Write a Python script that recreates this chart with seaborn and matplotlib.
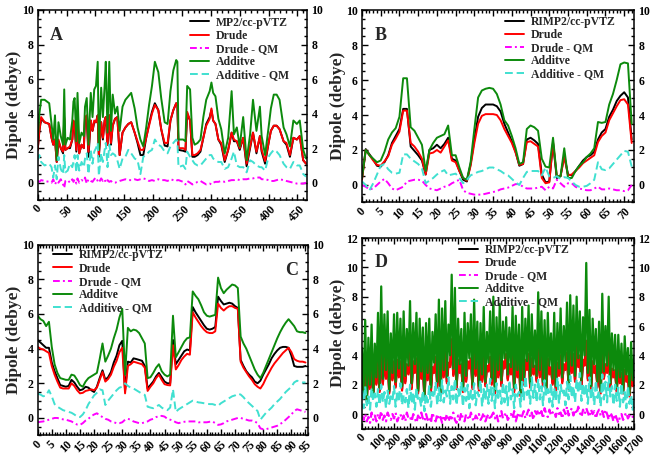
import numpy as np
import pandas as pd
import matplotlib
matplotlib.use("Agg")
import matplotlib.pyplot as plt
import seaborn as sns
from matplotlib.ticker import MultipleLocator

# ---------------- panel A (MP2/cc-pVTZ, 0..465) ----------------
a_x = [0, 3, 6, 12, 20, 24, 27, 30, 33, 36,
       40, 44, 46, 48, 52, 56, 60, 62, 64, 67,
       69, 72, 76, 80, 82, 85, 88, 92, 95, 98,
       101, 104, 106, 110, 113, 116, 118, 121, 124, 127,
       130, 134, 138, 142, 147, 152, 157, 162, 168, 173,
       178, 183, 188, 193, 198, 203, 209, 214, 220, 225,
       230, 235, 240, 242, 244, 252, 256, 259, 264, 268,
       272, 277, 282, 287, 292, 298, 301, 304, 308, 313,
       318, 324, 330, 336, 340, 345, 350, 356, 362, 368,
       373, 379, 385, 388, 394, 400, 404, 409, 414, 419,
       426, 431, 437, 443, 449, 454, 460, 465]
a_qm = [1.9, 3.0, 3.7, 3.5, 3.4, 2.6, 2.2, 2.5, 1.2, 2.4,
        2.0, 1.7, 3.7, 1.9, 2.0, 2.0, 2.5, 3.5, 3.3, 1.8,
        3.7, 1.7, 2.2, 2.0, 3.7, 3.8, 1.5, 3.6, 3.0, 3.5,
        3.5, 3.9, 1.5, 3.5, 2.5, 3.6, 3.8, 2.2, 3.9, 2.2,
        3.3, 3.7, 3.8, 1.6, 2.9, 3.2, 3.4, 3.5, 2.9, 2.3,
        1.6, 1.6, 2.6, 3.4, 4.1, 4.6, 4.2, 3.1, 2.15, 2.1,
        3.6, 4.2, 4.6, 4.5, 1.9, 1.85, 1.8, 4.0, 3.6, 1.5,
        1.5, 1.6, 1.8, 2.6, 3.4, 3.8, 4.2, 3.6, 3.4, 2.5,
        2.2, 1.2, 1.9, 2.9, 2.4, 2.4, 1.9, 2.6, 0.95, 2.0,
        2.9, 1.7, 2.7, 1.8, 1.1, 2.3, 3.0, 3.3, 3.3, 3.1,
        2.4, 2.2, 1.5, 2.6, 2.5, 2.7, 1.3, 1.1]
a_drude = [1.9, 3.0, 3.8, 3.5, 3.4, 2.6, 2.2, 2.5, 1.2, 2.5,
           2.0, 1.8, 3.8, 1.9, 2.0, 2.1, 2.5, 3.6, 3.3, 1.9,
           3.7, 1.7, 2.2, 2.0, 3.8, 3.9, 1.8, 3.6, 3.0, 3.6,
           3.5, 3.9, 1.6, 3.5, 2.6, 3.6, 3.8, 2.2, 3.9, 2.3,
           3.3, 3.7, 3.8, 1.6, 2.9, 3.2, 3.4, 3.5, 2.9, 2.4,
           1.9, 1.9, 2.6, 3.3, 4.0, 4.5, 4.2, 3.1, 2.3, 2.3,
           3.6, 4.2, 4.6, 4.5, 2.0, 2.0, 1.9, 4.1, 3.6, 1.6,
           1.6, 1.7, 1.9, 2.6, 3.3, 3.7, 4.3, 3.6, 3.4, 2.5,
           2.3, 1.3, 1.9, 2.9, 2.5, 2.4, 2.0, 2.6, 1.1, 2.1,
           2.9, 1.8, 2.7, 1.9, 1.25, 2.3, 3.0, 3.3, 3.3, 3.1,
           2.4, 2.3, 1.6, 2.6, 2.5, 2.7, 1.3, 1.1]
a_drude_qm = [0.1, 0.05, 0.15, 0.1, 0.05, 0.0, 0.2, -0.1, 0.1, 0.0,
              0.2, -0.1, -0.3, 0.1, 0.15, 0.0, 0.2, 0.05, 0.2, -0.05,
              0.25, 0.0, 0.15, 0.1, 0.3, -0.05, 0.2, 0.1, 0.05, 0.2,
              0.3, 0.1, 0.0, 0.25, 0.1, 0.2, 0.0, 0.15, 0.05, 0.1,
              0.0, 0.0, 0.05, 0.1, 0.15, 0.2, 0.15, 0.15, 0.2, 0.15,
              0.2, 0.25, 0.2, 0.1, 0.15, 0.1, 0.2, 0.15, 0.15, 0.1,
              0.2, 0.15, 0.1, 0.15, 0.15, 0.05, -0.1, 0.1, 0.0, -0.1,
              -0.05, 0.05, 0.1, 0.0, -0.1, -0.05, -0.1, 0.0, 0.05, 0.05,
              0.1, 0.05, 0.1, 0.15, 0.15, 0.2, 0.15, 0.2, 0.2, 0.25,
              0.25, 0.3, 0.3, 0.2, 0.2, 0.15, 0.1, 0.1, 0.15, 0.2,
              0.15, 0.1, 0.05, 0.0, -0.05, -0.05, -0.05, 0.0]
a_add = [2.5, 4.0, 4.8, 4.8, 4.6, 3.4, 2.5, 3.9, 1.3, 3.5,
         2.7, 2.2, 5.4, 2.2, 2.6, 2.5, 3.6, 4.7, 4.9, 2.4,
         5.2, 2.3, 2.9, 2.7, 4.4, 4.9, 2.2, 5.2, 3.8, 5.4,
         5.6, 7.0, 1.9, 5.5, 3.8, 5.6, 7.0, 2.9, 7.0, 3.0,
         5.1, 4.0, 4.4, 3.0, 4.4, 4.8, 5.0, 5.2, 4.3, 3.2,
         2.5, 2.1, 3.2, 4.5, 5.6, 7.0, 6.4, 4.9, 3.5, 3.4,
         5.3, 6.5, 7.1, 7.0, 2.5, 2.5, 2.4, 5.6, 5.4, 2.6,
         2.2, 2.3, 2.5, 3.8, 4.8, 5.3, 5.8, 5.2, 5.0, 3.7,
         3.1, 1.7, 2.6, 5.3, 2.8, 3.2, 2.1, 3.8, 1.3, 2.8,
         4.8, 3.0, 4.4, 2.7, 1.6, 3.2, 4.3, 5.1, 5.1, 4.8,
         3.2, 2.8, 2.1, 3.6, 3.4, 3.6, 1.9, 1.4]
a_add_qm = [1.3, 1.6, 1.2, 1.0, 1.1, 0.9, 0.3, 1.0, 0.2, 1.5,
            0.8, 0.5, 1.6, 0.6, 0.7, 1.1, 0.9, 1.2, 1.6, 0.6,
            1.6, 0.7, 1.2, 0.9, 1.4, 1.7, 0.5, 1.9, 1.1, 1.8,
            2.0, 2.3, 0.4, 1.7, 1.2, 1.9, 2.3, 0.9, 2.2, 1.6,
            1.7, 1.6, 1.3, 0.8, 1.4, 1.5, 1.9, 1.7, 1.4, 1.3,
            0.5, 1.5, 1.6, 1.8, 1.9, 2.5, 2.2, 2.1, 1.8, 1.7,
            2.1, 2.3, 2.5, 2.4, 0.9, 1.0, 0.8, 1.8, 1.5, 1.3,
            1.1, 1.0, 1.0, 1.2, 1.4, 1.6, 1.6, 1.4, 1.3, 1.2,
            1.2, 0.8, 0.9, 1.4, 1.8, 1.0, 0.9, 0.9, 0.6, 1.3,
            1.2, 1.0, 0.9, 0.9, 0.7, 1.5, 1.7, 1.9, 1.8, 1.6,
            1.1, 0.9, 0.8, 1.2, 1.0, 1.0, 0.5, 0.35]

# ---------------- panel B (RIMP2, 0..72) ----------------
b_x = list(range(73))
b_qm = [0.35, 2.05, 1.75, 1.45, 1.1, 1.05, 1.3, 1.7, 2.4, 2.8,
        3.2, 4.35, 4.35, 2.2, 1.95, 1.7, 1.4, 0.6, 2.0, 2.1,
        2.3, 2.1, 2.35, 2.7, 1.5, 1.4, 0.8, 0.3, 0.2, 1.2,
        2.6, 3.9, 4.4, 4.6, 4.6, 4.6, 4.5, 4.2, 3.5, 3.0,
        2.5, 1.9, 1.1, 1.2, 2.6, 2.7, 2.55, 2.35, 0.6, 0.15,
        0.2, 2.4, 0.4, 0.5, 1.7, 0.6, 0.55, 0.8, 1.1, 1.4,
        1.6, 1.7, 1.9, 2.6, 3.0, 3.2, 3.9, 4.3, 4.8, 5.1,
        5.3, 5.0, 2.6]
b_drude = [0.3, 2.0, 1.7, 1.4, 1.15, 1.1, 1.35, 1.65, 2.3, 2.65,
           3.05, 4.25, 4.25, 2.4, 2.2, 1.9, 1.5, 0.6, 1.8, 1.85,
           2.0, 1.85, 2.2, 2.55, 1.4, 1.3, 0.8, 0.4, 0.25, 1.1,
           2.4, 3.5, 3.95, 4.05, 4.05, 4.05, 4.0, 3.7, 3.2, 2.8,
           2.4, 1.85, 1.15, 1.2, 2.45, 2.5, 2.35, 2.2, 0.4, 0.1,
           0.15, 2.45, 0.5, 0.5, 1.6, 0.55, 0.6, 0.8, 1.0, 1.25,
           1.4, 1.55, 1.7, 2.45, 2.8, 3.0, 3.7, 4.1, 4.5, 4.85,
           4.9, 4.6, 2.4]
b_drude_qm = [0.0, -0.1, -0.25, -0.2, 0.0, 0.2, 0.35, 0.1, -0.2, -0.3,
              -0.2, -0.1, 0.2, 0.25, 0.3, 0.3, 0.25, 0.0, -0.2, -0.25,
              -0.3, -0.2, -0.1, -0.05, 0.1, 0.2, 0.3, -0.3, -0.45, -0.5,
              -0.55, -0.55, -0.55, -0.5, -0.45, -0.4, -0.35, -0.25, -0.2, -0.15,
              -0.05, 0.05, 0.05, -0.1, -0.2, -0.2, -0.2, -0.15, -0.1, -0.3,
              -0.1, -0.2, 0.3, 0.1, -0.1, 0.1, 0.1, -0.1, -0.2, -0.25,
              -0.3, -0.3, -0.2, -0.1, -0.25, -0.25, -0.2, -0.25, -0.3, -0.3,
              -0.35, -0.3, 0.0]
b_add = [0.4, 2.0, 1.7, 1.5, 1.3, 1.4, 1.9, 2.6, 3.0, 3.25,
         3.9, 6.1, 6.1, 3.3, 3.1, 2.7, 2.3, 0.8, 2.0, 2.4,
         2.7, 2.8, 2.9, 3.4, 1.7, 1.7, 1.0, 0.4, 0.3, 1.3,
         3.2, 5.0, 5.4, 5.5, 5.55, 5.5, 5.2, 4.6, 3.7, 3.4,
         2.8, 2.1, 1.2, 1.3, 3.2, 3.4, 3.3, 3.1, 1.5, 1.05,
         1.0, 2.7, 0.5, 0.5, 2.1, 0.4, 0.4, 0.8, 1.1, 1.3,
         1.6, 1.8, 2.1, 3.6, 3.55, 3.6, 4.6, 5.2, 6.0, 6.9,
         7.0, 6.95, 3.5]
b_add_qm = [0.2, 0.0, -0.3, 0.1, 0.6, 1.1, 1.2, 0.9, 0.7, 0.65,
            0.7, 1.75, 1.75, 1.5, 1.35, 1.2, 0.95, 0.1, 0.25, 0.4,
            0.6, 0.75, 0.85, 0.55, 0.6, 0.65, 0.4, 0.1, 0.3, 0.55,
            0.65, 0.75, 0.8, 0.9, 1.0, 1.0, 0.9, 0.8, 0.65, 0.55,
            0.35, 0.15, 0.0, 0.4, 0.75, 0.8, 0.8, 0.8, 0.55, 1.0,
            0.5, 0.4, 0.5, 0.35, 0.45, 0.4, 0.2, 0.0, -0.1, -0.1,
            -0.05, 0.1, 0.3, 1.3, 0.9, 0.85, 0.95, 1.2, 1.45, 1.7,
            1.95, 1.9, 1.05]

# ---------------- panel C (RIMP2, 0..95) ----------------
c_x = list(range(96))
c_qm = [4.5, 4.35, 4.2, 4.05, 4.05, 3.2, 2.7, 2.3, 1.9, 1.85,
        1.8, 1.85, 2.2, 2.05, 1.8, 1.6, 1.65, 1.8, 1.75, 1.6,
        1.5, 1.8, 2.3, 2.75, 2.2, 2.35, 2.65, 3.2, 3.6, 4.2,
        4.45, 1.6, 3.25, 3.2, 3.44, 3.4, 3.35, 3.3, 3.0, 1.7,
        1.9, 2.1, 2.4, 2.6, 2.35, 2.1, 2.0, 2.0, 4.5, 3.1,
        3.35, 3.6, 3.85, 3.95, 3.9, 6.4, 6.1, 5.85, 5.6, 5.35,
        5.15, 5.1, 5.15, 5.25, 7.0, 6.75, 6.55, 6.6, 6.65, 6.6,
        6.45, 6.35, 3.35, 3.0, 2.7, 2.5, 2.35, 2.1, 2.0, 2.15,
        2.5, 2.8, 3.1, 3.45, 3.7, 3.9, 4.05, 4.1, 4.1, 4.05,
        3.6, 3.0, 2.95, 2.95, 2.95, 3.0]
c_drude = [4.1, 4.0, 3.95, 3.85, 3.75, 3.0, 2.5, 2.1, 1.75, 1.7,
           1.7, 1.7, 2.0, 1.85, 1.6, 1.42, 1.45, 1.56, 1.6, 1.65,
           1.6, 1.75, 2.2, 2.65, 2.1, 2.25, 2.5, 2.95, 3.3, 3.8,
           4.05, 1.42, 3.0, 3.1, 3.25, 3.2, 3.15, 3.1, 2.9, 1.56,
           1.8, 2.0, 2.3, 2.5, 2.2, 1.95, 1.9, 1.88, 4.2, 2.8,
           3.05, 3.35, 3.55, 3.7, 3.65, 6.1, 5.8, 5.55, 5.3, 5.1,
           4.95, 4.9, 4.9, 5.0, 6.6, 6.35, 6.2, 6.35, 6.45, 6.45,
           6.35, 6.3, 3.25, 2.9, 2.65, 2.4, 2.2, 1.95, 1.8, 1.7,
           1.95, 2.3, 2.6, 2.9, 3.15, 3.35, 3.55, 3.75, 3.9, 4.05,
           3.8, 3.4, 3.3, 3.25, 3.25, 3.2]
c_drude_qm = [-0.25, -0.22, -0.2, -0.15, -0.1, -0.05, 0.0, 0.0, -0.05, -0.08,
              -0.1, -0.15, -0.2, -0.3, -0.38, -0.4, -0.3, -0.15, -0.05, 0.1,
              0.2, 0.27, 0.15, 0.05, -0.05, -0.1, -0.2, -0.25, -0.3, -0.3,
              -0.25, -0.1, -0.05, -0.1, -0.2, -0.25, -0.3, -0.3, -0.25, -0.2,
              -0.1, -0.05, 0.05, 0.1, 0.12, 0.08, -0.05, -0.1, -0.15, -0.25,
              -0.3, -0.25, -0.22, -0.2, -0.2, -0.2, -0.2, -0.25, -0.25, -0.25,
              -0.25, -0.22, -0.2, -0.3, -0.4, -0.37, -0.3, -0.2, -0.15, -0.1,
              -0.05, 0.0, 0.0, -0.05, -0.1, -0.15, -0.15, -0.2, -0.3, -0.6,
              -0.65, -0.65, -0.6, -0.55, -0.5, -0.45, -0.35, -0.25, -0.1, 0.05,
              0.2, 0.4, 0.5, 0.45, 0.4, 0.35]
c_add = [5.9, 5.7, 5.6, 5.3, 5.55, 4.1, 3.1, 2.6, 2.3, 2.25,
         2.2, 2.2, 2.5, 2.45, 2.2, 1.9, 1.8, 2.1, 2.3, 2.4,
         2.5, 2.6, 3.4, 4.3, 3.25, 3.6, 4.0, 4.6, 5.1, 5.8,
         6.3, 2.5, 5.2, 5.0, 5.1, 5.05, 4.9, 4.6, 4.3, 2.3,
         2.35, 2.6, 2.9, 3.1, 2.7, 2.5, 2.4, 2.5, 5.9, 3.5,
         3.8, 4.1, 4.4, 4.6, 4.65, 7.3, 7.05, 6.85, 6.5, 6.1,
         5.9, 5.85, 5.9, 5.95, 8.1, 7.5, 7.2, 7.4, 7.55, 7.7,
         7.65, 7.5, 4.7, 4.3, 4.0, 3.6, 3.2, 2.8, 2.5, 2.3,
         2.6, 3.0, 3.4, 3.8, 4.2, 4.6, 4.95, 5.25, 5.5, 5.7,
         5.5, 5.3, 5.0, 4.95, 4.95, 4.9]
c_add_qm = [1.4, 1.35, 1.25, 1.3, 1.6, 1.25, 0.8, 0.65, 0.55, 0.45,
            0.4, 0.35, 0.3, 0.2, 0.08, 0.05, 0.2, 0.45, 0.8, 1.05,
            1.3, 1.45, 1.65, 1.6, 0.75, 1.0, 1.2, 1.4, 1.6, 1.75,
            1.8, 2.0, 1.85, 1.75, 1.7, 1.6, 1.5, 1.4, 1.33, 0.65,
            0.6, 0.56, 0.65, 0.75, 0.6, 0.5, 0.45, 0.6, 1.65, 0.35,
            0.5, 0.6, 0.7, 0.8, 0.9, 1.0, 0.95, 0.9, 0.88, 0.85,
            0.82, 0.8, 0.8, 0.75, 0.7, 0.85, 0.95, 1.05, 1.15, 1.25,
            1.3, 1.4, 1.35, 1.2, 1.0, 0.85, 0.7, 0.55, 0.4, -0.1,
            0.1, 0.3, 0.45, 0.6, 0.8, 0.95, 1.1, 1.3, 1.5, 1.65,
            1.8, 2.05, 2.15, 2.1, 2.05, 2.05]

# ---------------- panel D (RIMP2, sampled every 10, 0..1700) ----------------
d_x = list(range(0, 1701, 10))
d_qm = [2.7, 1.3, 3.8, 1.0, 3.1, 1.8, 3.5, 1.2, 2.9, 2.1,
        3.9, 1.6, 4.5, 2.1, 3.8, 2.5, 3.7, 1.5, 3.2, 2.4,
        3.5, 1.9, 3.6, 2.6, 3.5, 1.7, 3.8, 2.2, 3.3, 2.8,
        4.1, 1.8, 3.5, 2.9, 3.7, 1.5, 3.5, 2.5, 3.2, 1.1,
        3.5, 2.4, 4.5, 1.6, 3.1, 2.9, 3.8, 1.9, 4.1, 1.4,
        3.9, 2.6, 4.2, 2.2, 3.4, 3.3, 5.0, 2.7, 4.5, 1.8,
        3.6, 2.9, 3.3, 1.6, 3.8, 2.3, 3.5, 3.2, 3.7, 1.8,
        4.2, 2.7, 3.5, 1.7, 3.4, 2.3, 3.9, 2.0, 3.2, 3.0,
        3.8, 2.1, 4.3, 1.5, 3.6, 2.6, 4.0, 2.0, 3.5, 3.2,
        4.0, 2.4, 3.3, 2.8, 4.0, 1.6, 3.7, 2.6, 3.4, 1.3,
        3.9, 2.1, 3.6, 3.1, 4.0, 1.9, 3.7, 2.8, 3.2, 2.3,
        4.4, 2.6, 3.8, 2.0, 3.5, 1.6, 3.7, 2.8, 3.1, 2.1,
        3.7, 1.7, 3.4, 2.7, 3.9, 2.2, 3.3, 3.1, 4.1, 1.8,
        4.4, 2.9, 4.0, 2.3, 4.8, 3.3, 3.9, 2.0, 3.6, 3.4,
        4.9, 2.4, 3.9, 1.7, 3.5, 2.9, 3.2, 1.9, 3.4, 1.5,
        4.4, 2.5, 3.3, 2.9, 4.3, 1.9, 3.0, 2.6, 2.9, 1.6,
        3.0, 2.2, 2.7, 1.5, 2.9, 2.3, 2.5, 1.3, 2.7, 2.0, 2.2]
d_drude = [2.8, 1.2, 3.9, 0.9, 3.2, 1.7, 3.6, 1.1, 3.0, 2.0,
           4.0, 1.5, 4.6, 2.0, 3.9, 2.4, 3.8, 1.4, 3.3, 2.3,
           3.6, 1.8, 3.7, 2.5, 3.6, 1.6, 3.9, 2.1, 3.4, 2.7,
           4.2, 1.7, 3.6, 2.8, 3.8, 1.4, 3.6, 2.4, 3.3, 1.0,
           3.6, 2.3, 4.6, 1.5, 3.2, 2.8, 3.9, 1.8, 4.2, 1.3,
           4.0, 2.5, 4.3, 2.1, 3.5, 3.2, 5.1, 2.6, 4.6, 1.7,
           3.7, 2.8, 3.4, 1.5, 3.9, 2.2, 3.6, 3.1, 3.8, 1.7,
           4.3, 2.6, 3.6, 1.6, 3.5, 2.2, 4.0, 1.9, 3.3, 2.9,
           3.9, 2.0, 4.4, 1.4, 3.7, 2.5, 4.1, 1.9, 3.6, 3.1,
           4.1, 2.3, 3.4, 2.7, 4.1, 1.5, 3.8, 2.5, 3.5, 1.2,
           4.0, 2.0, 3.7, 3.0, 4.1, 1.8, 3.8, 2.7, 3.3, 2.2,
           4.5, 2.5, 3.9, 1.9, 3.6, 1.5, 3.8, 2.7, 3.2, 2.0,
           3.8, 1.6, 3.5, 2.6, 4.0, 2.1, 3.4, 3.0, 4.2, 1.7,
           4.5, 2.8, 4.1, 2.2, 4.9, 3.2, 4.0, 1.9, 3.7, 3.3,
           5.0, 2.3, 4.0, 1.6, 3.6, 2.8, 3.3, 1.8, 3.5, 1.4,
           4.5, 2.4, 3.4, 2.8, 4.4, 1.8, 3.1, 2.5, 3.0, 1.5,
           3.1, 2.1, 2.8, 1.4, 3.0, 2.2, 2.6, 1.2, 2.8, 1.9, 2.3]
d_drude_qm = [-0.1, -0.4, 0.0, -0.5, -0.2, -0.6, 0.1, -0.4, -0.1, -0.5,
              0.0, -0.3, 0.2, -0.4, -0.1, -0.5, 0.1, -0.2, -0.4, 0.0,
              -0.3, 0.1, -0.5, -0.2, 0.0, -0.4, -0.1, -0.5, 0.1, -0.3,
              -0.2, -0.5, 0.0, -0.3, -0.6, -0.1, -0.4, 0.1, -0.3, -0.5,
              0.0, -0.4, -0.2, -0.6, 0.1, -0.3, -0.5, 0.0, -0.4, -0.2,
              -0.6, -0.1, -0.4, 0.0, -0.5, -0.2, -0.3, 0.1, -0.4, -0.6,
              -0.1, -0.4, 0.1, -0.3, -0.5, 0.0, -0.2, -0.4, 0.1, -0.3,
              -0.5, -0.1, -0.3, 0.0, -0.4, -0.2, 0.1, -0.5, -0.2, 0.0,
              -0.4, -0.1, 0.1, -0.3, 0.0, -0.5, -0.2, 0.2, -0.3, -0.1,
              0.1, -0.4, -0.2, 0.0, -0.3, 0.2, -0.5, -0.1, 0.1, -0.3,
              -0.1, 0.2, -0.3, 0.0, 0.3, -0.2, 0.1, -0.4, 0.2, 0.0,
              0.3, -0.1, 0.2, -0.3, 0.4, 0.0, -0.2, 0.3, -0.1, 0.1,
              0.2, -0.2, 0.4, 0.0, 0.1, -0.3, 0.3, 0.0, 0.5, -0.1,
              0.2, 0.4, -0.1, 0.3, 0.0, 0.5, 0.1, -0.2, 0.3, 0.0,
              0.4, 0.1, -0.2, 0.3, 0.0, 0.2, -0.3, 0.1, 0.3, -0.1,
              0.2, -0.2, 0.3, 0.0, -0.4, 0.1, -0.1, -0.5, 0.0, -0.3,
              -0.6, -0.2, 0.0, -0.4, -0.1, 0.1, -0.3, -0.1, 0.0, -0.2, -0.1]
d_add = [4.5, 1.5, 6.4, 0.8, 5.2, 2.0, 6.1, 1.2, 4.8, 2.5,
         6.9, 1.8, 8.7, 2.4, 6.8, 3.0, 7.0, 1.6, 5.5, 2.8,
         6.8, 2.2, 6.9, 3.1, 6.5, 1.9, 7.0, 2.6, 5.8, 3.3,
         7.7, 2.1, 6.2, 3.4, 6.9, 1.6, 6.5, 2.9, 5.9, 1.2,
         6.2, 2.8, 6.5, 1.8, 5.6, 3.5, 6.8, 2.2, 7.8, 1.5,
         7.2, 3.0, 7.7, 2.5, 6.1, 4.0, 9.5, 3.1, 8.6, 2.0,
         6.5, 3.4, 5.8, 1.7, 6.9, 2.6, 6.2, 3.8, 6.8, 2.0,
         7.8, 3.1, 6.3, 1.9, 6.2, 2.7, 7.3, 2.2, 5.6, 3.5,
         7.0, 2.4, 8.0, 1.6, 6.6, 3.0, 7.5, 2.3, 6.3, 3.8,
         6.6, 2.7, 5.9, 3.2, 7.3, 1.8, 6.7, 3.0, 6.1, 1.4,
         7.3, 2.4, 6.5, 3.6, 7.4, 2.1, 6.8, 3.2, 5.7, 2.6,
         8.3, 3.0, 7.0, 2.2, 6.4, 1.7, 6.9, 3.3, 5.5, 2.4,
         6.9, 1.9, 6.2, 3.1, 7.2, 2.5, 6.0, 3.6, 7.6, 2.0,
         8.1, 3.3, 7.4, 2.6, 8.0, 3.8, 7.0, 2.3, 6.6, 4.0,
         10.3, 2.8, 7.1, 1.9, 6.5, 3.4, 5.8, 2.2, 6.3, 1.6,
         8.2, 2.9, 6.0, 3.3, 8.0, 2.1, 5.5, 3.0, 5.4, 1.8,
         5.4, 2.5, 4.8, 1.6, 5.3, 2.7, 4.5, 1.4, 4.9, 2.3, 4.0]
d_add_qm = [1.6, 0.4, 1.9, 0.6, 1.2, 0.3, 1.8, 0.9, 1.4, 0.5,
            1.7, 0.6, 2.0, 0.8, 1.5, 0.4, 1.6, 0.7, 1.2, 0.9,
            1.9, 0.5, 1.4, 1.0, 2.1, 0.6, 1.3, 0.8, 1.7, 0.4,
            2.0, 0.7, 1.5, 0.3, 1.8, 0.9, 1.1, 0.5, 1.6, 0.2,
            1.4, 0.8, 1.9, 0.5, 1.5, 1.1, 2.2, 0.6, 1.8, 0.9,
            2.3, 0.8, 1.6, 1.2, 2.5, 0.7, 1.9, 1.0, 2.4, 0.6,
            1.7, 1.1, 2.2, 0.5, 1.8, 0.9, 2.0, 0.4, 1.6, 1.0,
            2.1, 0.6, 1.5, 1.2, 2.3, 0.5, 1.7, 0.9, 2.0, 0.7,
            2.4, 0.9, 1.8, 0.4, 2.1, 1.1, 1.6, 0.7, 2.2, 0.8,
            1.9, 0.6, 2.3, 1.0, 1.7, 0.4, 2.0, 1.2, 1.5, 0.5,
            2.2, 0.9, 2.6, 1.3, 1.8, 0.7, 2.5, 1.1, 2.0, 0.8,
            2.4, 1.0, 1.9, 0.6, 2.3, 1.2, 1.7, 0.8, 2.1, 0.5,
            1.8, 0.9, 2.5, 0.7, 2.0, 1.3, 1.6, 0.6, 2.2, 1.0,
            2.6, 1.1, 1.9, 0.8, 2.4, 1.4, 2.8, 0.9, 2.1, 1.2,
            2.0, 0.7, 2.5, 1.0, 1.8, 0.6, 2.3, 1.1, 1.6, 0.5,
            2.7, 1.0, 2.2, 0.8, 2.6, 1.2, 1.9, 0.6, 2.0, 0.9,
            1.8, 0.5, 2.1, 0.8, 1.5, 0.4, 1.9, 0.7, 1.3, 0.3, 1.0]

COLORS = {"qm": "#000000", "drude": "#ff0000", "dqm": "#ff00ff",
          "add": "#0c8a0c", "aqm": "#40e0d0"}
SERIF = ["Liberation Serif", "DejaVu Serif"]

sns.set_theme(style="ticks")
plt.rcParams["font.family"] = SERIF
plt.rcParams["font.weight"] = "bold"
plt.rcParams["axes.labelweight"] = "bold"
plt.rcParams["axes.linewidth"] = 1.1
plt.rcParams["axes.edgecolor"] = "black"

fig = plt.figure(figsize=(6.54, 4.57), dpi=100, facecolor="white")

panels = [
    dict(rect=[0.0576, 0.5624, 0.4122, 0.4158], x=a_x, qm=a_qm, drude=a_drude, dqm=a_drude_qm,
         add=a_add, aqm=a_add_qm, qm_name="MP2/cc-pVTZ", letter="A", xlim=(0, 467),
         xmaj=50, xmin=10, ymax=10, leg=(0.565, 0.965), let=(0.046, 0.842, "left"), lw=1.4),
    dict(rect=[0.5535, 0.5569, 0.4164, 0.4212], x=b_x, qm=b_qm, drude=b_drude, dqm=b_drude_qm,
         add=b_add, aqm=b_add_qm, qm_name="RIMP2/cc-pVTZ", letter="B", xlim=(0, 72.7),
         xmaj=5, xmin=1, ymax=10, leg=(0.525, 0.97), let=(0.048, 0.844, "left"), lw=1.4),
    dict(rect=[0.0576, 0.0475, 0.4138, 0.4171], x=c_x, qm=c_qm, drude=c_drude, dqm=c_drude_qm,
         add=c_add, aqm=c_add_qm, qm_name="RIMP2/cc-pVTZ", letter="C", xlim=(0, 96),
         xmaj=5, xmin=1, ymax=10, leg=(0.057, 0.975), let=(0.962, 0.841, "right"), lw=1.4),
    dict(rect=[0.5535, 0.0619, 0.4164, 0.4173], x=d_x, qm=d_qm, drude=d_drude, dqm=d_drude_qm,
         add=d_add, aqm=d_add_qm, qm_name="RIMP2/cc-pVTZ", letter="D", xlim=(0, 1700),
         xmaj=100, xmin=20, ymax=12, leg=(0.356, 0.97), let=(0.048, 0.848, "left"), lw=1.6),
]

for p in panels:
    ax = fig.add_axes(p["rect"])
    lw = p["lw"]
    series = [
        (p["qm"], p["qm_name"], COLORS["qm"], "-"),
        (p["drude"], "Drude", COLORS["drude"], "-"),
        (p["dqm"], "Drude - QM", COLORS["dqm"], (0, (3.5, 1.6, 1.0, 1.6))),
        (p["add"], "Additve", COLORS["add"], "-"),
        (p["aqm"], "Additive - QM", COLORS["aqm"], (0, (4.0, 2.0))),
    ]
    for y, name, col, ls in series:
        sns.lineplot(x=p["x"], y=y, ax=ax, color=col, linestyle=ls, linewidth=lw,
                     label=name, estimator=None)

    ax.set_xlim(*p["xlim"])
    ax.set_ylim(-1, p["ymax"])
    ax.xaxis.set_major_locator(MultipleLocator(p["xmaj"]))
    ax.xaxis.set_minor_locator(MultipleLocator(p["xmin"]))
    ax.yaxis.set_major_locator(MultipleLocator(2))
    ax.yaxis.set_minor_locator(MultipleLocator(0.5))
    ax.tick_params(which="both", direction="in", top=True, right=True,
                   labelright=True, width=1.0, colors="black", labelsize=8.5, pad=3)
    ax.tick_params(which="major", length=4)
    ax.tick_params(which="minor", length=2.2)
    ax.tick_params(axis="x", labelrotation=45, pad=2)
    for lab in ax.get_xticklabels() + ax.get_yticklabels():
        lab.set_fontweight("bold")
    ax.set_ylabel("Dipole (debye)", fontsize=12.5, fontweight="bold", labelpad=0)
    ax.set_xlabel("")
    for s in ax.spines.values():
        s.set_visible(True)
        s.set_linewidth(1.1)

    # legend sized by the line widths in the reference (short handles, tight rows)
    leg = ax.legend(loc="upper left", bbox_to_anchor=p["leg"], frameon=False,
                    prop={"family": SERIF, "weight": "bold", "size": 8.5},
                    handlelength=1.6, handletextpad=0.6, labelspacing=0.1,
                    borderpad=0, borderaxespad=0)
    for h in leg.get_lines():
        h.set_linewidth(1.4)

    lx, ly, ha = p["let"]
    ax.text(lx, ly, p["letter"], transform=ax.transAxes, ha=ha, va="baseline",
            fontsize=13, fontweight="bold")

fig.savefig("out.png", dpi=100, facecolor="white")
